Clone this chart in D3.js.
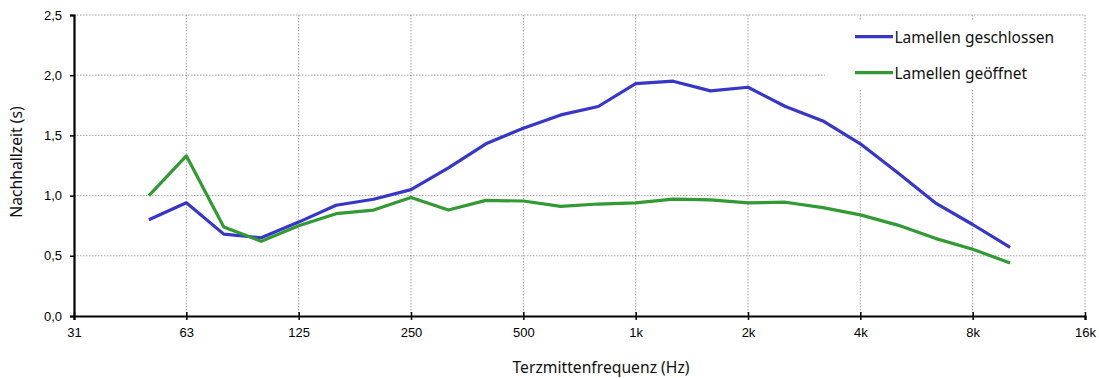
<!DOCTYPE html>
<html>
<head>
<meta charset="utf-8">
<script src="https://cdn.jsdelivr.net/npm/d3@7"></script>
<style>
  html, body { margin: 0; padding: 0; background: #fff; }
  svg { display: block; }
</style>
</head>
<body>
<svg id="chart" width="1099" height="378"></svg>
<script>
// Third-octave band centre frequencies (nominal, Hz)
const bands = [50, 63, 80, 100, 125, 160, 200, 250, 315, 400, 500, 630, 800,
               1000, 1250, 1600, 2000, 2500, 3150, 4000, 5000, 6300, 8000, 10000];

// Reverberation time (s), louvres closed
const closed = [0.80, 0.94, 0.68, 0.65, 0.78, 0.92, 0.97, 1.05, 1.23, 1.43, 1.56, 1.67, 1.74,
                1.93, 1.95, 1.87, 1.90, 1.74, 1.62, 1.43, 1.19, 0.94, 0.76, 0.57];

// Reverberation time (s), louvres open
const opened = [1.00, 1.33, 0.74, 0.62, 0.75, 0.85, 0.88, 0.985, 0.88, 0.96, 0.955, 0.91, 0.93,
                0.94, 0.97, 0.965, 0.94, 0.945, 0.90, 0.84, 0.755, 0.645, 0.555, 0.44];

// Octave ticks on the frequency axis
const octaveTicks = [31.25, 62.5, 125, 250, 500, 1000, 2000, 4000, 8000, 16000];
const octaveLabels = ["31", "63", "125", "250", "500", "1k", "2k", "4k", "8k", "16k"];

const yTicks = [0, 0.5, 1.0, 1.5, 2.0, 2.5];

const seriesNames = ["Lamellen geschlossen", "Lamellen geöffnet"];
const seriesColors = ["#3636c9", "#339933"];

// exact base-2 third-octave centre for a nominal band frequency
const exactCentre = f => 1000 * Math.pow(2, Math.round(3 * Math.log2(f / 1000)) / 3);

const svg = d3.select("#chart");
const plotL = 74, plotR = 1085, plotT = 15, plotB = 316;
const tickFont = "'Liberation Sans', Arial, sans-serif";
const textFont = "'Noto Sans', 'Open Sans', sans-serif";

const x = d3.scaleLog().domain([31.25, 16000]).range([plotL, plotR]);
const y = d3.scaleLinear().domain([0, 2.5]).range([plotB, plotT]);

// grid
const grid = svg.append("g").attr("stroke", "#8c8c8c").attr("stroke-width", 0.8)
  .attr("stroke-dasharray", "1.5,1.5").attr("fill", "none");
grid.selectAll(".gx").data(octaveTicks.slice(1)).join("line")
  .attr("x1", d => x(d)).attr("x2", d => x(d)).attr("y1", plotT).attr("y2", plotB);
grid.selectAll(".gy").data(yTicks.slice(1)).join("line")
  .attr("x1", plotL).attr("x2", plotR).attr("y1", d => y(d)).attr("y2", d => y(d));

// legend background covering the grid
svg.append("rect").attr("x", 825).attr("y", 20).attr("width", 257).attr("height", 70)
  .attr("fill", "#fff");

// axes
const fmt = d => d3.format(".1f")(d).replace(".", ",");
const yAxis = d3.axisLeft(y).tickValues(yTicks).tickFormat(fmt).tickSize(4).tickPadding(8);
const gy = svg.append("g").attr("transform", `translate(${plotL},0)`).call(yAxis);
gy.select(".domain").attr("stroke", "#000").attr("stroke-width", 2.2);
gy.selectAll(".tick line").attr("stroke", "#000").attr("stroke-width", 1.5);
gy.selectAll("text").attr("font-family", tickFont)
  .attr("font-size", 13).attr("fill", "#000");

const xAxis = d3.axisBottom(x).tickValues(octaveTicks)
  .tickFormat((d, i) => octaveLabels[i]).tickSize(4).tickPadding(8);
const gx = svg.append("g").attr("transform", `translate(0,${plotB})`).call(xAxis);
gx.select(".domain").attr("stroke", "#000").attr("stroke-width", 2.2);
gx.selectAll(".tick line").attr("stroke", "#000").attr("stroke-width", 1.5)
  .attr("y1", -4).attr("y2", 4);
gx.selectAll("text").attr("font-family", tickFont)
  .attr("font-size", 13).attr("fill", "#000");

// series lines
const line = d3.line().x(d => x(exactCentre(d[0]))).y(d => y(d[1]));
[closed, opened].forEach((vals, i) => {
  svg.append("path")
    .datum(bands.map((f, j) => [f, vals[j]]))
    .attr("d", line)
    .attr("fill", "none")
    .attr("stroke", seriesColors[i])
    .attr("stroke-width", 3.2)
    .attr("stroke-linejoin", "round");
});

// legend
const lg = svg.append("g");
seriesNames.forEach((name, i) => {
  const ly = 36.7 + i * 36;
  lg.append("line").attr("x1", 855).attr("x2", 893).attr("y1", ly).attr("y2", ly)
    .attr("stroke", seriesColors[i]).attr("stroke-width", 3.2);
  lg.append("text").attr("x", 894.5).attr("y", ly + 6)
    .attr("font-family", textFont).attr("font-size", 15.5)
    .attr("fill", "#111").text(name);
});

// axis titles
svg.append("text").attr("x", 601).attr("y", 372.5).attr("text-anchor", "middle")
  .attr("font-family", textFont).attr("font-size", 15.7)
  .attr("fill", "#111").text("Terzmittenfrequenz (Hz)");
svg.append("text").attr("transform", "translate(21.5,162) rotate(-90)")
  .attr("text-anchor", "middle")
  .attr("font-family", textFont).attr("font-size", 15.7)
  .attr("fill", "#111").text("Nachhallzeit (s)");
</script>
</body>
</html>
